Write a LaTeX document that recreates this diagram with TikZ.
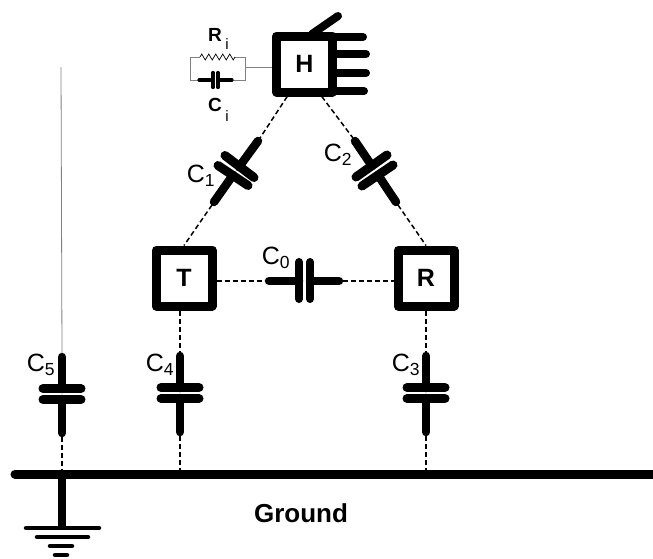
\documentclass[tikz,border=0pt]{standalone}
\usepackage{fontspec}
\setmainfont{Liberation Sans}
\usetikzlibrary{decorations.pathmorphing}
\tikzset{
	boxnode/.style={draw,line width=9pt,line join=round,minimum size=56pt,inner sep=0pt,font=\fontsize{25}{25}\selectfont\bfseries},
	lead/.style={line width=8.5pt,line cap=round},
	plate/.style={line width=9pt,line cap=round},
	wire/.style={line width=1.5pt,dash pattern=on 5pt off 3pt},
	finger/.style={line width=8pt,line cap=round},
	thin wire/.style={gray,line width=.7pt},
	small part/.style={line width=3.2pt,line cap=round},
	caplabel/.style={font=\fontsize{25}{25}\selectfont,inner sep=0pt},
	partlabel/.style={font=\fontsize{19}{19}\selectfont\bfseries,inner sep=0pt},
	sublabel/.style={font=\fontsize{15}{15}\selectfont,inner sep=0pt}
}
\begin{document}
\begin{tikzpicture}[x=1pt,y=-1pt]
	\useasboundingbox[fill=white] (0,0) rectangle (653,558);
	%boxes
	\node[boxnode] (H) at (304.5,64) {H};
	\node[boxnode] (T) at (184,278) {T};
	\node[boxnode] (R) at (426,278) {R};
	%hand
	\draw[finger] (312,34) -- (338,16);
	\foreach \y/\x in {37/363,54/366,73/366,91/364}
		\draw[finger] (334,\y) -- (\x,\y);
	%ground
	\coordinate (G1) at (15,474);
	\coordinate (G2) at (657,474);
	\draw[line width=9pt,line cap=round] (G1) -- (G2);
	\node[font=\fontsize{26}{26}\selectfont\bfseries,inner sep=0pt] (Ground) at (301,513) {Ground};
	\coordinate (E) at (62,474);
	\coordinate (E0) at (62,528);
	\draw[line width=8.5pt] (E) -- (E0);
	\foreach \y/\a/\b in {528/26/99,537/37/88,546/50/72,555/55/67}
		\draw[line width=4.5pt,line cap=round] (\a,\y) -- (\b,\y);
	%vertical capacitors
	\foreach \n/\x/\t in {3/426/352,4/180/352,5/62/353}
	{
		\coordinate (C\n a) at (\x,\t);
		\coordinate (C\n b) at (\x,\t+84);
		\coordinate (G\n) at (\x,470);
		\draw[lead] (\x,\t+4) -- (\x,\t+36);
		\draw[lead] (\x,\t+80) -- (\x,\t+46);
		\draw[plate] (\x-19,\t+35.5) -- (\x+19,\t+35.5);
		\draw[plate] (\x-19,\t+46.5) -- (\x+19,\t+46.5);
		\draw[wire] (C\n b) -- (G\n);
	}
	\draw[wire] (T.south) ++(-4,0) coordinate (Ts) (Ts) -- (C4a);
	\draw[wire] (R) -- (C3a);
	\coordinate (antenna) at (61,67);
	\draw[gray,line width=.8pt] (antenna) -- (C5a);
	%capacitor 0
	\coordinate (C0a) at (265,281);
	\coordinate (C0b) at (343,281);
	\draw[lead] (269,281) -- (299,281);
	\draw[lead] (339,281) -- (310,281);
	\draw[plate,line width=8pt] (299,262) -- (299,299);
	\draw[plate,line width=8pt] (310,262) -- (310,299);
	\draw[wire] (T.east |- C0a) -- (C0a);
	\draw[wire] (C0b) -- (R.west |- C0b);
	%capacitor 1
	\coordinate (C1a) at (260,138);
	\coordinate (C1b) at (212,205);
	\draw[lead] (258,141) -- (239,167);
	\draw[lead] (214,202) -- (233,175);
	\draw[plate] (225,155.5) -- (254,177.5);
	\draw[plate] (218,165.5) -- (248,185.5);
	\draw[wire] (H.242) -- (C1a);
	\draw[wire] (C1b) -- (T.north);
	%capacitor 2
	\coordinate (C2a) at (353,138);
	\coordinate (C2b) at (398,205);
	\draw[lead] (355,141) -- (372,166);
	\draw[lead] (396,202) -- (378,175);
	\draw[plate] (356,177) -- (387,155);
	\draw[plate] (362,186) -- (393,165);
	\draw[wire] (H.298) -- (C2a);
	\draw[wire] (C2b) -- (R.north);
	%input network
	\coordinate (Ra) at (190,67);
	\coordinate (Rb) at (245,67);
	\draw[thin wire] (Rb) -- (H.west |- Rb);
	\draw[thin wire] (Ra) |- (200,57);
	\draw[thin wire] (Rb) |- (235,57);
	\draw[thin wire,black,decorate,decoration={zigzag,amplitude=3pt,segment length=7pt}] (200,57) -- (235,57);
	\draw[thin wire] (Ra) |- (198,80);
	\draw[thin wire] (Rb) |- (233,80);
	\draw[small part] (199,80) -- (213,80);
	\draw[small part] (218,80) -- (232,80);
	\draw[small part] (213,72.5) -- (213,87.5);
	\draw[small part] (218,72.5) -- (218,87.5);
	%labels
	\node[partlabel] (Rlabel) at (215,35) {R};
	\node[sublabel] (Rsub) at (227,44) {i};
	\node[partlabel] (Clabel) at (215,105) {C};
	\node[sublabel] (Csub) at (227,116) {i};
	\node[caplabel] (c0) at (276,258) {C\textsubscript{0}};
	\node[caplabel] (c1) at (201,176) {C\textsubscript{1}};
	\node[caplabel] (c2) at (338,155) {C\textsubscript{2}};
	\node[caplabel] (c3) at (406,365) {C\textsubscript{3}};
	\node[caplabel] (c4) at (160,365) {C\textsubscript{4}};
	\node[caplabel] (c5) at (41,365) {C\textsubscript{5}};
\end{tikzpicture}
\end{document}
